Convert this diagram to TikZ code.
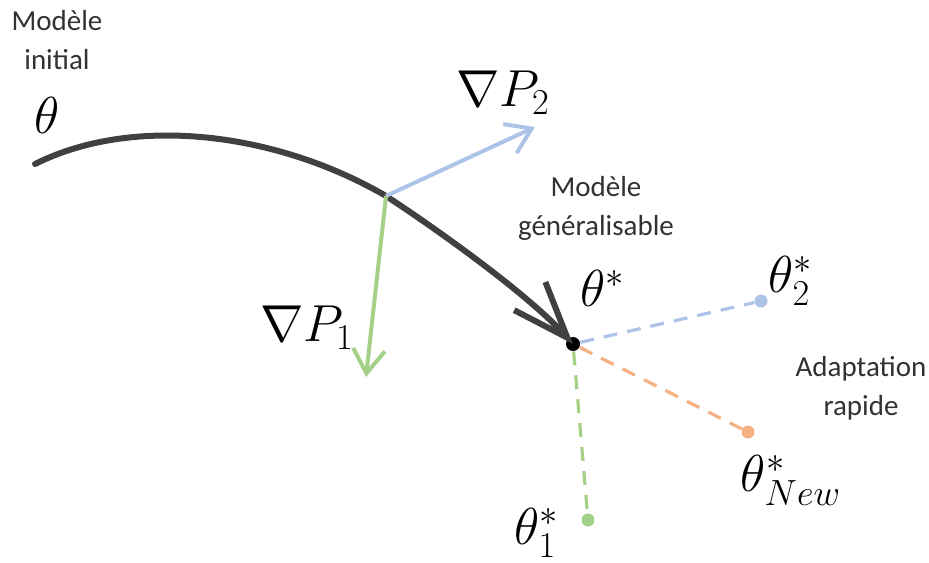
\documentclass[tikz,border=0pt]{standalone}
\usepackage{fix-cm}
\usepackage{amsmath}
\usepackage{fontspec}
\setmainfont{Carlito}
\usepackage{tikz}
\usetikzlibrary{arrows.meta,positioning}
\definecolor{pathgray}{RGB}{64,64,64}
\definecolor{textgray}{RGB}{50,50,50}
\definecolor{gradblue}{RGB}{174,195,232}
\definecolor{gradgreen}{RGB}{164,208,136}
\definecolor{adaptorange}{RGB}{244,177,131}
\tikzstyle{lbl}=[font=\fontsize{14.5}{19.5}\selectfont,text=textgray,align=center,inner sep=0pt]
\tikzstyle{mathlbl}=[font=\fontsize{26}{30}\selectfont,inner sep=0pt]
\tikzstyle{traj}=[draw=pathgray,line width=3pt,line cap=round,-{Straight Barb[length=28pt,width=21pt]}]
\tikzstyle{grad}=[line width=2pt,-{Straight Barb[length=12pt,width=16pt]}]
\tikzstyle{adapt}=[line width=1.6pt,dash pattern=on 7pt off 5pt]
\tikzstyle{taskpt}=[circle,inner sep=0pt,minimum size=6.5pt]

\begin{document}
\begin{tikzpicture}[x=0.5pt,y=-0.5pt]
      \useasboundingbox (0,0) rectangle (929,562);
      \node[lbl] (initlbl) at (57,40) {Modèle\\initial};
      \node[mathlbl] (theta) at (47,115) {$\theta$};
      \coordinate (start) at (35,164);
      \coordinate (split) at (386,196);
      \node[circle,fill=black,inner sep=0pt,minimum size=7pt] (opt) at (573,344) {};
      \draw[traj] (start) .. controls (135,114) and (278,133) .. (split)
            .. controls (432,226) and (527,293) .. (opt.center);
      \node[taskpt,fill=gradblue] (t2) at (761,301) {};
      \node[taskpt,fill=adaptorange] (tnew) at (748,432) {};
      \node[taskpt,fill=gradgreen] (t1) at (588,520) {};
      \draw[adapt,gradblue] (opt) -- (t2);
      \draw[adapt,adaptorange] (opt) -- (tnew);
      \draw[adapt,gradgreen] (opt) -- (t1);
      \coordinate (g2end) at (535,127);
      \coordinate (g1end) at (366,377);
      \draw[grad,gradblue] (split) -- (g2end);
      \draw[grad,gradgreen] (split) -- (g1end);
      \node[mathlbl] (g2lbl) at (503,93) {$\nabla P_2$};
      \node[mathlbl] (g1lbl) at (307,328) {$\nabla P_1$};
      \node[lbl] (genlbl) at (596,208) {Modèle\\généralisable};
      \node[mathlbl] (optlbl) at (603,288) {$\theta^*$};
      \node[mathlbl] (t2lbl) at (791,281) {$\theta_2^*$};
      \node[lbl] (adaptlbl) at (861,388) {Adaptation\\rapide};
      \node[mathlbl] (tnewlbl) at (791,480) {$\theta_{New}^*$};
      \node[mathlbl] (t1lbl) at (537,533) {$\theta_1^*$};
    \end{tikzpicture}
\end{document}
